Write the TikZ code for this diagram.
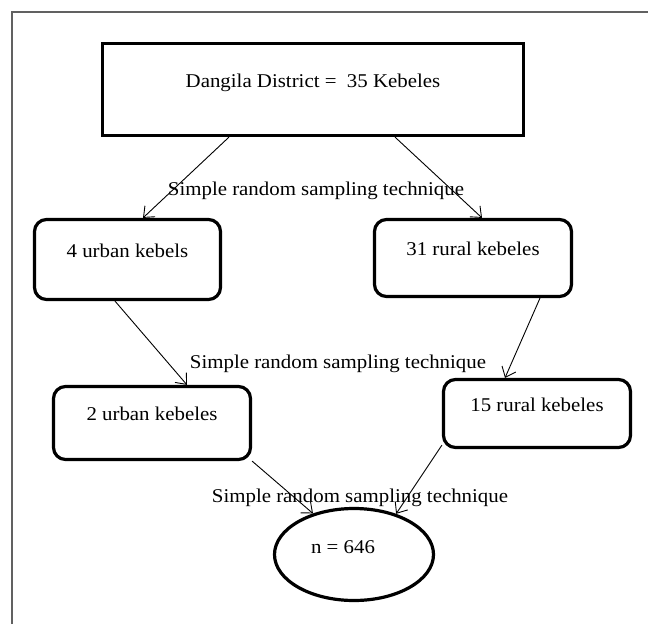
\documentclass[tikz,border=0pt]{standalone}
\usepackage{fontspec}
\setmainfont{Liberation Serif}[FakeStretch=1.07]
\usetikzlibrary{arrows.meta,shapes.geometric}
\begin{document}
\begin{tikzpicture}[x=1pt,y=-1pt,
  txt/.style={font=\fontsize{19.5}{23}\selectfont},
  sharpbox/.style={txt,draw=black,line width=3.2pt,inner sep=0pt,text height=14pt,text depth=19pt},
  roundbox/.style={sharpbox,rounded corners=12pt},
  oval/.style={txt,ellipse,draw=black,line width=3.2pt,inner sep=0pt,text height=14pt,text depth=17pt},
  lbl/.style={txt,inner sep=0pt,anchor=base},
  conn/.style={line width=0.9pt,-{Straight Barb[length=9pt,width=15pt,line width=0.9pt]}},
  frameline/.style={draw=black!62,line width=1.3pt}]
\useasboundingbox (0,0) rectangle (648,624);
\draw[frameline] (12,624) -- (12,12) -- (648,12);

\node[sharpbox,minimum width=421pt,minimum height=92pt] (top) at (313,89.5) {Dangila District = \ 35 Kebeles};
\node[roundbox,minimum width=186pt,minimum height=80pt] (b4) at (127.5,259.5) {4 urban kebels};
\node[roundbox,minimum width=197pt,minimum height=77pt] (b31) at (473,258) {31 rural kebeles};
\node[roundbox,minimum width=197pt,minimum height=73pt] (b2) at (152,423) {2 urban kebeles};
\node[roundbox,minimum width=187pt,minimum height=68pt] (b15) at (537,413.5) {15 rural kebeles};
\node[oval,minimum width=159pt,minimum height=92pt] (n) at (354,554.5) {n = 646\hspace*{22pt}};

\node[lbl] (l1) at (316,195) {Simple random sampling technique};
\node[lbl] (l2) at (338,368) {Simple random sampling technique};
\node[lbl] (l3) at (360,502) {Simple random sampling technique};

\draw[conn] ([xshift=-84pt]top.south) -- ([xshift=15.5pt]b4.north);
\draw[conn] ([xshift=82pt]top.south) -- ([xshift=9pt]b31.north);
\draw[conn] ([xshift=-12.5pt]b4.south) -- ([xshift=35pt]b2.north);
\draw[conn] ([xshift=67pt]b31.south) -- ([xshift=-32pt]b15.north);
\draw[conn] (b2.south east) -- (n.135);
\draw[conn] ([yshift=4pt]b15.south west) -- (n.44);
\end{tikzpicture}
\end{document}
